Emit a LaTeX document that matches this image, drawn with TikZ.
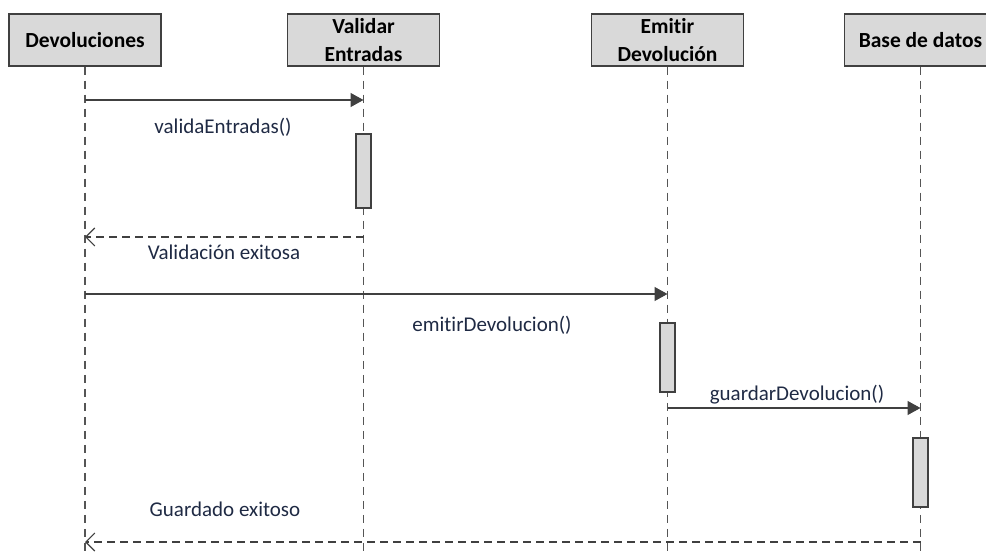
\documentclass[tikz,border=0pt]{standalone}
\usepackage{fontspec}
\setmainfont{Carlito}[Ligatures=NoCommon]
\usetikzlibrary{arrows.meta,positioning}

\definecolor{boxgray}{HTML}{D9D9D9}
\definecolor{edgegray}{HTML}{404040}
\definecolor{lifegray}{HTML}{555555}
\definecolor{msgnavy}{HTML}{1F2A44}

\tikzset{
    actor/.style={draw=edgegray,fill=boxgray,line width=1.5pt,minimum width=152pt,
        minimum height=52pt,inner sep=0pt,align=center,
        font=\fontsize{21.5}{28}\selectfont\bfseries},
    lifeline/.style={draw=lifegray,line width=1.2pt,dash pattern=on 8pt off 6pt},
    activ/.style={draw=edgegray,fill=boxgray,line width=1.2pt,minimum width=15pt,inner sep=0pt},
    call/.style={draw=edgegray,line width=1.3pt,-{Triangle[length=13pt,width=14pt]}},
    reply/.style={draw=edgegray,line width=1.2pt,dash pattern=on 8pt off 5pt,
        -{Straight Barb[length=9pt,width=18pt,line width=1.1pt]}},
    msglabel/.style={text=msgnavy,font=\fontsize{21}{24}\selectfont,inner sep=0pt}
}

\begin{document}
\begin{tikzpicture}[x=1pt,y=-1pt]
    \useasboundingbox (0,0) rectangle (986,556);
    \clip (0,0) rectangle (986,556);
    % lifeline heads
    \node[actor] (dev) at (85,40) {Devoluciones};
    \node[actor] (val) at (363.5,40) {Validar\\Entradas};
    \node[actor] (emi) at (667.5,40) {Emitir\\Devolución};
    \node[actor] (bd) at (920.5,40) {Base de datos};
    % lifelines
    \coordinate (devend) at (85,556);
    \coordinate (valend) at (363.5,556);
    \coordinate (emiend) at (667.5,556);
    \coordinate (bdend) at (920.5,556);
    \draw[lifeline] (dev.south) -- (devend);
    \draw[lifeline] (val.south) -- (valend);
    \draw[lifeline] (emi.south) -- (emiend);
    \draw[lifeline] (bd.south) -- (bdend);
    % activations
    \node[activ,minimum height=74pt] (valact) at (363.5,171) {};
    \node[activ,minimum height=69pt] (emiact) at (667.5,357.5) {};
    \node[activ,minimum height=69pt] (bdact) at (920.5,472.5) {};
    % message points
    \coordinate (m1a) at (85,100);
    \coordinate (m1b) at (363.5,100);
    \coordinate (r1a) at (363.5,237);
    \coordinate (r1b) at (85,237);
    \coordinate (m2a) at (85,294);
    \coordinate (m2b) at (667.5,294);
    \coordinate (m3a) at (667.5,408);
    \coordinate (m3b) at (920.5,408);
    \coordinate (r2a) at (920.5,542);
    \coordinate (r2b) at (85,542);
    % messages
    \draw[call] (m1a) -- (m1b);
    \draw[reply] (r1a) -- (r1b);
    \draw[call] (m2a) -- (m2b);
    \draw[call] (m3a) -- (m3b);
    \draw[reply] (r2a) -- (r2b);
    % labels
    \node[msglabel] (l1) at (223,127) {validaEntradas()};
    \node[msglabel] (l2) at (224,252) {Validación exitosa};
    \node[msglabel] (l3) at (492,325) {emitirDevolucion()};
    \node[msglabel] (l4) at (797,395) {guardarDevolucion()};
    \node[msglabel] (l5) at (225,509) {Guardado exitoso};
\end{tikzpicture}
\end{document}
